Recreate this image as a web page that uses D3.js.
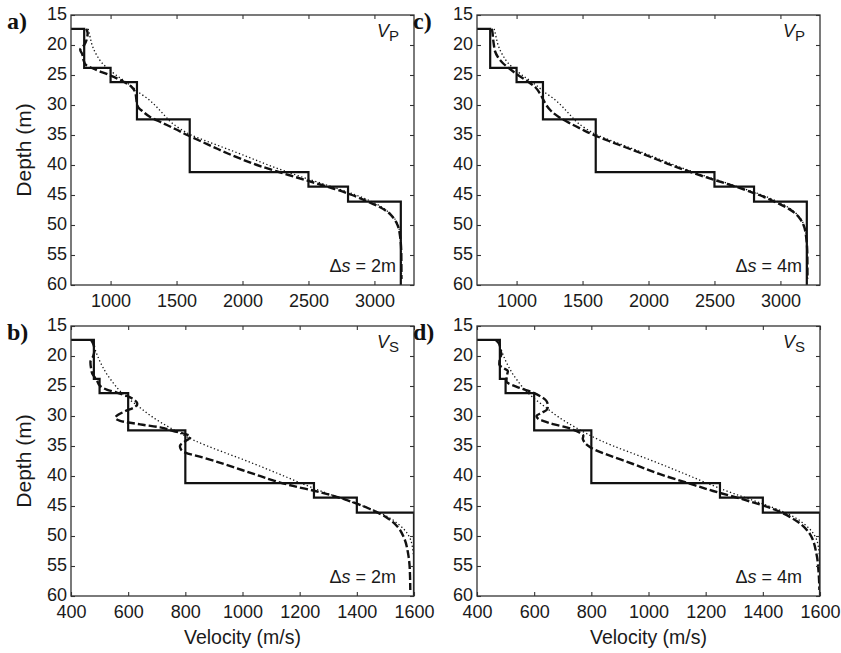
<!DOCTYPE html>
<html>
<head>
<meta charset="utf-8">
<script src="https://cdn.jsdelivr.net/npm/d3@7"></script>
<style>
  html, body { margin: 0; padding: 0; background: #fff; }
  svg { display: block; }
</style>
</head>
<body>
<div id="chart"></div>
<script>
// ---------------- DATA ----------------
const depthTicks = [15, 20, 25, 30, 35, 40, 45, 50, 55, 60];
const vpTicks = [1000, 1500, 2000, 2500, 3000];
const vsTicks = [400, 600, 800, 1000, 1200, 1400, 1600];
const vpDomain = [700, 3300];
const vsDomain = [400, 1600];
const depthDomain = [15, 60];

// true layered model: velocity of each layer paired with the depth of its base
const layerBase = [17.3, 23.8, 26.2, 32.4, 41.2, 43.6, 46.1, 60];
const vpLayers = [700, 800, 1000, 1200, 1600, 2500, 2800, 3200];
const vsLayers = [400, 480, 500, 600, 800, 1250, 1400, 1600];

// smooth (dotted) profiles  [depth, velocity]
const vpDotted = [[17.3,830],[18,838],[19,848],[20,860],[21,878],[22,903],[23,935],[24,985],[25,1040],[26,1105],[27,1165],[28,1220],[29,1285],[30,1335],[31,1378],[32,1420],[33,1465],[34,1530],[35,1610],[36,1725],[37,1845],[38,1965],[39,2080],[40,2195],[41,2320],[42,2450],[43,2590],[44,2730],[45,2860],[46,2970],[47,3055],[48,3115],[49,3155],[50,3178],[52,3196],[55,3203],[59,3205]];
const vsDotted = [[17.3,470],[18,477],[19,485],[20,493],[21,502],[22,513],[23,525],[24,540],[25,556],[26,575],[27,598],[28,625],[29,652],[30,680],[31,712],[32,748],[33,786],[34,828],[35,877],[36,932],[37,988],[38,1042],[39,1094],[40,1145],[41,1195],[42,1247],[43,1302],[44,1362],[45,1420],[46,1474],[47,1515],[48,1545],[49,1567],[50,1582],[52,1595],[55,1600],[59,1600]];

// inverted (dashed) profiles  [depth, velocity]
const vpDashed2m = [[17.3,815],[18,826],[19,820],[20,800],[20.8,770],[21.5,785],[22.5,795],[23.3,812],[24,875],[25,990],[26,1090],[27,1160],[28,1188],[29,1195],[30,1202],[30.6,1218],[31,1240],[32,1300],[33,1395],[34,1490],[35,1580],[36,1680],[37,1780],[38,1880],[39,1990],[40,2110],[41,2250],[42,2400],[43,2550],[44,2700],[45,2830],[46,2940],[47,3040],[48,3110],[49,3150],[50,3175],[52,3195],[55,3204],[59,3205]];
const vpDashed4m = [[17.3,812],[18,818],[19,822],[20,828],[21,836],[22,858],[23,895],[24,950],[25,1010],[26,1080],[27,1140],[28,1175],[29,1200],[30,1225],[31,1262],[32,1320],[33,1400],[34,1490],[35,1585],[36,1700],[37,1820],[38,1940],[39,2055],[40,2170],[41,2295],[42,2430],[43,2575],[44,2715],[45,2840],[46,2945],[47,3040],[48,3108],[49,3150],[50,3175],[52,3195],[55,3204],[59,3205]];
const vsDashed2m = [[17.3,470],[18,478],[19,482],[20,478],[21,468],[22,470],[23,475],[24,490],[25,502],[25.6,525],[26.1,560],[26.9,607],[28,632],[28.6,620],[29.2,590],[29.8,565],[30.3,555],[30.8,572],[31.4,642],[31.9,712],[32.5,758],[33,800],[33.4,818],[33.8,812],[34.2,800],[35,781],[35.6,785],[36.1,800],[36.9,860],[38,935],[39,998],[39.7,1042],[40.8,1112],[41.7,1180],[42.5,1254],[43.3,1318],[44.4,1388],[45.5,1446],[46.9,1504],[48.6,1545],[50.3,1565],[53.1,1580],[55.3,1585],[59,1587]];
const vsDashed4m = [[17.3,465],[18,478],[19,482],[19.7,485],[20.5,480],[21.4,478],[22,492],[22.5,508],[23.2,505],[24.2,503],[25.3,549],[26.1,596],[26.8,625],[27.5,643],[28.3,648],[28.9,645],[29.5,625],[30,608],[30.5,615],[30.8,631],[31.4,670],[31.9,713],[32.8,760],[33.3,772],[33.8,770],[34.3,775],[35,790],[35.7,815],[36.4,853],[38,946],[39.7,1040],[41.1,1133],[42.5,1226],[43.9,1331],[45.5,1436],[47.5,1518],[49.7,1565],[53.1,1588],[56,1595],[59,1598]];

const panelLetters = ["a)", "b)", "c)", "d)"];
const waveLabels = ["P", "S", "P", "S"];
const spacingLabels = ["2m", "2m", "4m", "4m"];

// ---------------- LAYOUT ----------------
const W = 841, H = 653;
const colLeft = [71, 477];
const rowTop = [15, 326];
const pw = 343, ph = 270;

const svg = d3.select("#chart").append("svg")
  .attr("width", W).attr("height", H)
  .attr("viewBox", `0 0 ${W} ${H}`);

const panels = [
  { letter: panelLetters[0], wave: waveLabels[0], ds: spacingLabels[0], col: 0, row: 0, domain: vpDomain, ticks: vpTicks, layers: vpLayers, dotted: vpDotted, dashed: vpDashed2m },
  { letter: panelLetters[1], wave: waveLabels[1], ds: spacingLabels[1], col: 0, row: 1, domain: vsDomain, ticks: vsTicks, layers: vsLayers, dotted: vsDotted, dashed: vsDashed2m },
  { letter: panelLetters[2], wave: waveLabels[2], ds: spacingLabels[2], col: 1, row: 0, domain: vpDomain, ticks: vpTicks, layers: vpLayers, dotted: vpDotted, dashed: vpDashed4m },
  { letter: panelLetters[3], wave: waveLabels[3], ds: spacingLabels[3], col: 1, row: 1, domain: vsDomain, ticks: vsTicks, layers: vsLayers, dotted: vsDotted, dashed: vsDashed4m }
];

const sans = "'Liberation Sans', Arial, Helvetica, sans-serif";
const serif = "'Liberation Serif', 'Times New Roman', serif";
const ink = "#111";
const frameColor = "#333";
const textColor = "#1a1a1a";

panels.forEach((p, i) => {
  const gx = colLeft[p.col], gy = rowTop[p.row];
  const g = svg.append("g").attr("transform", `translate(${gx},${gy})`);
  const x = d3.scaleLinear().domain(p.domain).range([0, pw]);
  const y = d3.scaleLinear().domain(depthDomain).range([0, ph]);

  const clipId = "clip" + i;
  g.append("clipPath").attr("id", clipId)
    .append("rect").attr("x", 0).attr("y", 0).attr("width", pw).attr("height", ph);

  const plot = g.append("g").attr("clip-path", `url(#${clipId})`);

  const curveLine = d3.line()
    .x(d => x(d[1])).y(d => y(d[0]))
    .curve(d3.curveMonotoneY);

  // dotted smooth profile
  plot.append("path").datum(p.dotted)
    .attr("d", curveLine)
    .attr("fill", "none").attr("stroke", ink)
    .attr("stroke-width", 1.3)
    .attr("stroke-dasharray", "1.3,2.4");

  // dashed inverted profile
  plot.append("path").datum(p.dashed)
    .attr("d", curveLine)
    .attr("fill", "none").attr("stroke", ink)
    .attr("stroke-width", 2.4)
    .attr("stroke-dasharray", "8,3");

  // true layered model (solid step)
  const stepData = p.layers.map((v, k) => [layerBase[k], v]);
  const stepLine = d3.line()
    .x(d => x(d[1])).y(d => y(d[0]))
    .curve(d3.curveStepAfter);
  plot.append("path").datum(stepData)
    .attr("d", stepLine)
    .attr("fill", "none").attr("stroke", ink)
    .attr("stroke-width", 2.2)
    .attr("stroke-linejoin", "miter");

  const styleAxis = sel => {
    sel.select(".domain").remove();
    sel.selectAll(".tick line").attr("stroke", frameColor).attr("stroke-width", 1.1);
    sel.selectAll(".tick text")
      .attr("fill", textColor)
      .style("font-family", sans)
      .style("font-size", "18px");
  };

  const xAxis = d3.axisBottom(x).tickValues(p.ticks).tickSizeInner(-4).tickSizeOuter(0).tickPadding(9).tickFormat(d3.format("d"));
  g.append("g").attr("transform", `translate(0,${ph})`).call(xAxis).call(styleAxis);

  const xAxisTop = d3.axisTop(x).tickValues(p.ticks).tickSizeInner(-4).tickSizeOuter(0).tickFormat("");
  g.append("g").call(xAxisTop).call(styleAxis);

  const yAxis = d3.axisLeft(y).tickValues(depthTicks).tickSizeInner(-4).tickSizeOuter(0).tickPadding(4).tickFormat(d3.format("d"));
  g.append("g").call(yAxis).call(styleAxis)
    .selectAll(".tick text").attr("dy", "0.27em");

  const yAxisRight = d3.axisRight(y).tickValues(depthTicks).tickSizeInner(-4).tickSizeOuter(0).tickFormat("");
  g.append("g").attr("transform", `translate(${pw},0)`).call(yAxisRight).call(styleAxis);

  // frame
  g.append("rect").attr("x", 0).attr("y", 0).attr("width", pw).attr("height", ph)
    .attr("fill", "none").attr("stroke", frameColor).attr("stroke-width", 1.3);

  // wave label V_P / V_S
  const wl = g.append("text")
    .attr("x", pw - 15).attr("y", 22)
    .attr("text-anchor", "end")
    .style("font-family", sans).style("font-size", "18px").attr("fill", textColor);
  wl.append("tspan").style("font-style", "italic").text("V");
  wl.append("tspan").attr("dy", 4).style("font-size", "15px").text(p.wave);

  // spacing label
  const st = g.append("text")
    .attr("x", pw - 18).attr("y", ph - 13)
    .attr("text-anchor", "end")
    .style("font-family", sans).style("font-size", "18px").attr("fill", textColor);
  st.append("tspan").text("\u0394");
  st.append("tspan").style("font-style", "italic").text("s");
  st.append("tspan").text(" = " + p.ds);

  // panel letter
  svg.append("text")
    .attr("x", gx - 64).attr("y", gy + 14)
    .style("font-family", serif).style("font-weight", "bold").style("font-size", "24px")
    .attr("fill", "#111")
    .text(p.letter);

  // axis titles
  if (p.col === 0) {
    svg.append("text")
      .attr("transform", `translate(${gx - 40},${gy + ph / 2}) rotate(-90)`)
      .attr("text-anchor", "middle")
      .style("font-family", sans).style("font-size", "21px").attr("fill", textColor)
      .text("Depth (m)");
  }
  if (p.row === 1) {
    svg.append("text")
      .attr("x", gx + pw / 2).attr("y", gy + ph + 48)
      .attr("text-anchor", "middle")
      .style("font-family", sans).style("font-size", "19.5px").attr("fill", textColor)
      .text("Velocity (m/s)");
  }
});
</script>
</body>
</html>
